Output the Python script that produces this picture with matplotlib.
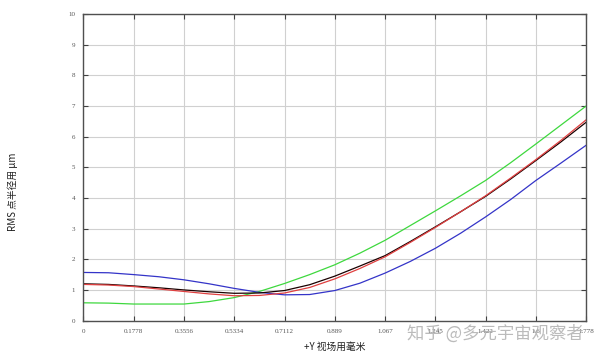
import matplotlib
matplotlib.use('Agg')
import matplotlib.pyplot as plt

plt.rcParams['font.family'] = ['Noto Sans CJK SC', 'DejaVu Sans']

# field points (mm)
field = [0, 0.0889, 0.1778, 0.2667, 0.3556, 0.4445, 0.5334, 0.6223, 0.7112, 0.8001,
         0.889, 0.9779, 1.067, 1.156, 1.245, 1.334, 1.422, 1.511, 1.6, 1.689, 1.778]
xticks = [0, 0.1778, 0.3556, 0.5334, 0.7112, 0.889, 1.067, 1.245, 1.422, 1.6, 1.778]
xtick_labels = ['0', '0.1778', '0.3556', '0.5334', '0.7112', '0.889', '1.067',
                '1.245', '1.422', '1.6', '1.778']

rms_blue = [1.57, 1.56, 1.50, 1.43, 1.33, 1.20, 1.05, 0.92, 0.84, 0.85,
            0.98, 1.22, 1.55, 1.93, 2.36, 2.85, 3.38, 3.95, 4.57, 5.14, 5.72]
rms_green = [0.58, 0.57, 0.54, 0.54, 0.54, 0.62, 0.75, 0.95, 1.21, 1.50,
             1.82, 2.20, 2.62, 3.10, 3.58, 4.07, 4.57, 5.15, 5.76, 6.38, 7.00]
rms_black = [1.20, 1.18, 1.13, 1.07, 1.00, 0.94, 0.89, 0.90, 0.98, 1.17,
             1.45, 1.78, 2.12, 2.58, 3.06, 3.55, 4.05, 4.62, 5.22, 5.83, 6.47]
rms_red = [1.18, 1.16, 1.11, 1.03, 0.95, 0.87, 0.81, 0.82, 0.90, 1.08,
           1.36, 1.70, 2.08, 2.55, 3.04, 3.55, 4.07, 4.65, 5.25, 5.88, 6.55]

fig = plt.figure(figsize=(6, 3.59), dpi=100)
ax = fig.add_axes([0.139, 0.107, 0.838, 0.854])

ax.plot(field, rms_green, color='#3ed83e', lw=0.9)
ax.plot(field, rms_blue, color='#3434c8', lw=0.9)
ax.plot(field, rms_black, color='#1a0000', lw=0.9)
ax.plot(field, rms_red, color='#e04040', lw=0.9)

ax.set_xlim(0, 1.778)
ax.set_ylim(0, 10)
ax.set_xticks(xticks)
ax.set_xticklabels(xtick_labels)
ax.set_yticks(range(0, 11))
ax.grid(True, color='#d0d0d0', lw=0.8)
ax.tick_params(direction='in', length=3.5, width=0.8, color='#404040',
               top=True, right=True, labelsize=5, labelcolor='#555555', pad=6)
for lab in ax.get_xticklabels() + ax.get_yticklabels():
    lab.set_family('Liberation Serif')
for s in ax.spines.values():
    s.set_color('#505050')
    s.set_linewidth(1.0)

fig.text(0.022, 0.465, 'RMS 点半径用 μm', rotation=90, ha='center', va='center',
         fontsize=7, color='#222222')
fig.text(0.558, 0.033, '+Y 视场用毫米', ha='center', va='center',
         fontsize=7, color='#222222')

# watermark
fig.text(0.825, 0.072, '知乎 @多元宇宙观察者', ha='center', va='center',
         fontsize=12.5, color='#b0b0b0', alpha=0.85)

fig.savefig('out.png', dpi=100)
